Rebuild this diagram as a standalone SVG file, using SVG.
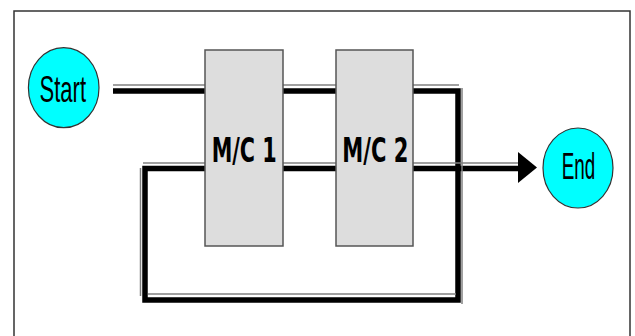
<svg xmlns="http://www.w3.org/2000/svg" width="635" height="336" viewBox="0 0 635 336">
<style>
.frame{fill:#fff;stroke:#333;stroke-width:1.5}
.term{fill:#00ffff;stroke:#333;stroke-width:1.2}
.mc{fill:#dddddd;stroke:#555;stroke-width:1.5}
.blk{fill:none;stroke:#000;stroke-width:5.5;stroke-linejoin:miter}
.gry{fill:none;stroke:#808080;stroke-width:1.5}
.lbl{font-family:"Liberation Sans",Arial,sans-serif;fill:#000}
.mcl{font-family:"DejaVu Sans","Liberation Sans",sans-serif;font-weight:bold;fill:#000}
</style>
<rect class="frame" x="14" y="11" width="616" height="340"/>
<g id="connectors">
<path class="blk" d="M113,91 H458 V300 H145 V168.5 H519"/>
<path class="gry" d="M113,85 H459"/>
<path class="gry" d="M462,88 V304"/>
<path class="gry" d="M148,294 H456"/>
<path class="gry" d="M140.5,168 V296"/>
<path class="gry" d="M143,163 H518"/>
<polygon points="518,152 537,167.5 518,183" fill="#000"/>
</g>
<g id="start">
<ellipse class="term" cx="63.7" cy="87.7" rx="35.3" ry="40"/>
<text class="lbl" x="39.5" y="101.5" font-size="37" textLength="46.5" lengthAdjust="spacingAndGlyphs">Start</text>
</g>
<g id="mc1">
<rect class="mc" x="205" y="50" width="78" height="196"/>
<text class="mcl" x="211.7" y="161.7" font-size="33" textLength="65" lengthAdjust="spacingAndGlyphs">M/C 1</text>
</g>
<g id="mc2">
<rect class="mc" x="336" y="50" width="77" height="196"/>
<text class="mcl" x="342.3" y="161.7" font-size="33" textLength="66" lengthAdjust="spacingAndGlyphs">M/C 2</text>
</g>
<g id="end">
<ellipse class="term" cx="578" cy="168" rx="35" ry="40"/>
<text class="lbl" x="561.7" y="178.5" font-size="37" textLength="33.5" lengthAdjust="spacingAndGlyphs">End</text>
</g>
</svg>
